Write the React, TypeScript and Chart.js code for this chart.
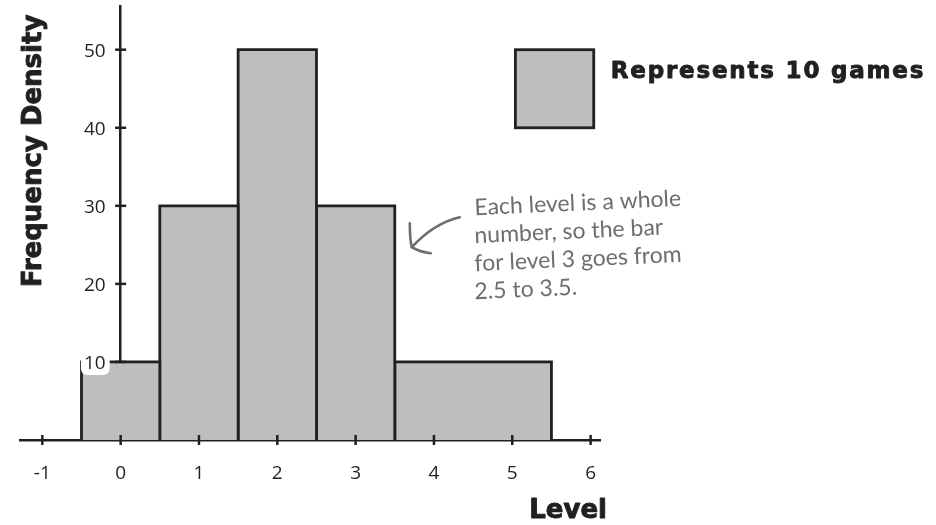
import { useEffect, useRef } from "react";
import { Chart, registerables } from "chart.js";

Chart.register(...registerables);

// ---- data ----
const BIN_EDGES = [-0.5, 0.5, 1.5, 2.5, 3.5, 5.5];
const DENSITIES = [10, 30, 50, 30, 10];
const X_TICKS = [-1, 0, 1, 2, 3, 4, 5, 6];
const Y_TICKS = [10, 20, 30, 40, 50];
const X_TITLE = "Level";
const Y_TITLE = "Frequency Density";
const KEY_LABEL = "Represents 10 games";
const KEY_GAMES = 10;
const NOTE_LINES = [
  "Each level is a whole",
  "number, so the bar",
  "for level 3 goes from",
  "2.5 to 3.5.",
];

// ---- style ----
const INK = "#231f20";
const FILL = "#bcbec0";
const NOTE = "#6d6e71";
const X_MIN = -1.285;
const X_MAX = 6.12;
const Y_MAX = 55.6;
const KEY_LEVEL = 5.04;
const KEY_TOP = 50;
const ARROW_LEVEL = 3.5;
const ARROW_DENSITY = 24.7;

const heavyText = (ctx: CanvasRenderingContext2D, t: string, x: number, y: number) => {
  ctx.fillText(t, x, y);
  ctx.strokeText(t, x, y);
};

const overlay = {
  id: "overlay",
  afterDraw(chart: any) {
    const { ctx, scales } = chart;
    const x = scales.x;
    const y = scales.y;
    const x0 = x.getPixelForValue(0);
    const y0 = y.getPixelForValue(0);
    const line = (a: number, b: number, c: number, d: number) => {
      ctx.beginPath();
      ctx.moveTo(a, b);
      ctx.lineTo(c, d);
      ctx.stroke();
    };
    ctx.save();
    ctx.strokeStyle = INK;
    ctx.lineWidth = 2.5;
    ctx.lineCap = "butt";
    X_TICKS.forEach((v) => {
      const px = x.getPixelForValue(v);
      line(px, y0 - 5, px, y0 + 5);
    });
    Y_TICKS.forEach((v) => {
      const py = y.getPixelForValue(v);
      line(x0 - 5.5, py, x0 + 5.5, py);
    });

    // y tick labels with white backdrop
    ctx.font = "19px 'Open Sans'";
    ctx.textAlign = "right";
    ctx.textBaseline = "middle";
    Y_TICKS.forEach((v) => {
      const py = y.getPixelForValue(v) + 2;
      const label = String(v);
      const w = ctx.measureText(label).width;
      const rx = x0 - 15;
      ctx.fillStyle = "#ffffff";
      ctx.beginPath();
      (ctx as any).roundRect(rx - w - 3, py - 11, w + 7, 22, 6);
      ctx.fill();
      ctx.fillStyle = INK;
      ctx.fillText(label, rx, py);
    });

    // key square: one level wide, KEY_GAMES density high
    const kx = x.getPixelForValue(KEY_LEVEL);
    const kw = x.getPixelForValue(KEY_LEVEL + 1) - kx;
    const ky = y.getPixelForValue(KEY_TOP);
    const kh = y.getPixelForValue(KEY_TOP - KEY_GAMES) - ky;
    ctx.fillStyle = FILL;
    ctx.fillRect(kx, ky, kw, kh);
    ctx.lineWidth = 2.8;
    ctx.strokeRect(kx, ky, kw, kh);
    ctx.fillStyle = INK;
    ctx.lineWidth = 0.9;
    ctx.lineJoin = "round";
    ctx.font = "bold 23px 'DejaVu Sans'";
    (ctx as any).letterSpacing = "1.8px";
    ctx.textAlign = "left";
    ctx.textBaseline = "alphabetic";
    heavyText(ctx, KEY_LABEL, kx + kw + 17, ky + 28);
    (ctx as any).letterSpacing = "0px";

    // axis titles
    ctx.font = "bold 26px 'DejaVu Sans'";
    ctx.textAlign = "right";
    heavyText(ctx, X_TITLE, x.right + 7, y0 + 78);
    ctx.save();
    ctx.translate(41, (chart.chartArea.top + y0) / 2 - 72);
    ctx.rotate(-Math.PI / 2);
    ctx.textAlign = "center";
    heavyText(ctx, Y_TITLE, 0, 0);
    ctx.restore();

    // annotation arrow
    const ax = x.getPixelForValue(ARROW_LEVEL) + 17;
    const ay = y.getPixelForValue(ARROW_DENSITY);
    ctx.strokeStyle = NOTE;
    ctx.lineWidth = 2.6;
    ctx.lineCap = "round";
    ctx.lineJoin = "round";
    ctx.beginPath();
    ctx.moveTo(ax + 48, ay - 30);
    ctx.quadraticCurveTo(ax + 22, ay - 24, ax, ay);
    ctx.stroke();
    ctx.beginPath();
    ctx.moveTo(ax - 2, ay - 24);
    ctx.quadraticCurveTo(ax - 2, ay - 8, ax, ay);
    ctx.quadraticCurveTo(ax + 8, ay + 5, ax + 19, ay + 6);
    ctx.stroke();

    // annotation text
    ctx.fillStyle = NOTE;
    ctx.font = "23px Lato";
    ctx.textAlign = "left";
    NOTE_LINES.forEach((t, i) => {
      ctx.save();
      ctx.translate(ax + 63, ay - 32 + i * 28);
      ctx.rotate(-0.045);
      ctx.fillText(t, 0, 0);
      ctx.restore();
    });
    ctx.restore();
  },
};

const noPad = (s: any) => {
  s.paddingTop = 0;
  s.paddingBottom = 0;
  s.paddingLeft = 0;
  s.paddingRight = 0;
};

export default function App() {
  const ref = useRef<HTMLCanvasElement>(null);
  useEffect(() => {
    document.body.style.margin = "0";
    const canvas = ref.current!;
    const datasets = DENSITIES.map((d, i) => ({
      label: `${BIN_EDGES[i]} to ${BIN_EDGES[i + 1]}`,
      data: [
        { x: BIN_EDGES[i], y: 0 },
        { x: BIN_EDGES[i], y: d },
        { x: BIN_EDGES[i + 1], y: d },
        { x: BIN_EDGES[i + 1], y: 0 },
      ],
      fill: "origin",
      backgroundColor: FILL,
      borderColor: INK,
      borderWidth: 2.8,
      borderJoinStyle: "miter" as const,
      pointRadius: 0,
      tension: 0,
    }));
    const chart = new Chart(canvas, {
      type: "line",
      data: { datasets },
      plugins: [overlay],
      options: {
        responsive: false,
        animation: false,
        layout: { padding: { left: 20, right: 336, top: 6, bottom: 85 } },
        plugins: { legend: { display: false }, tooltip: { enabled: false } },
        scales: {
          x: {
            type: "linear",
            position: { y: 0 } as any,
            min: X_MIN,
            max: X_MAX,
            z: 1,
            afterBuildTicks: (s: any) => {
              s.ticks = X_TICKS.map((v) => ({ value: v }));
            },
            afterFit: noPad,
            grid: { display: true, drawOnChartArea: false, drawTicks: false },
            border: { display: true, color: INK, width: 2.5 },
            ticks: {
              color: INK,
              padding: 22,
              font: { family: "'Open Sans'", size: 19 },
              maxRotation: 0,
              autoSkip: false,
            },
          },
          y: {
            type: "linear",
            position: { x: 0 } as any,
            min: 0,
            max: Y_MAX,
            z: 1,
            afterBuildTicks: (s: any) => {
              s.ticks = Y_TICKS.map((v) => ({ value: v }));
            },
            afterFit: noPad,
            grid: { display: true, drawOnChartArea: false, drawTicks: false },
            border: { display: true, color: INK, width: 2.5 },
            ticks: { display: false },
          },
        },
      },
    });
    return () => chart.destroy();
  }, []);
  return (
    <div style={{ position: "fixed", left: 0, top: 0, width: 936, height: 525, background: "#fff" }}>
      <canvas ref={ref} width={936} height={525} style={{ display: "block" }} />
    </div>
  );
}
